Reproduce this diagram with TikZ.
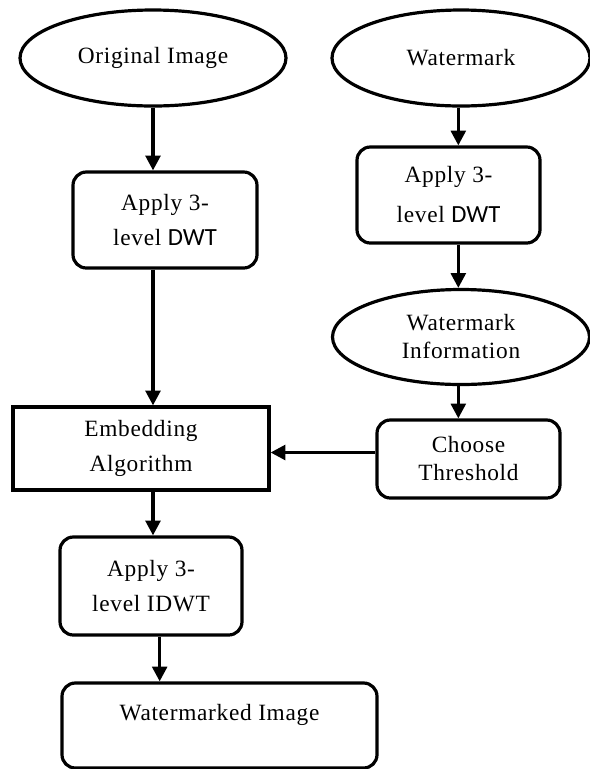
\documentclass[tikz,border=0pt]{standalone}
\usepackage{fontspec}
\setmainfont{Liberation Serif}[LetterSpace=3]
\newfontfamily\dwtfont{Carlito}
\usetikzlibrary{shapes.geometric,arrows.meta}
\tikzset{
  base/.style={draw=black, line width=2.4pt, align=center, inner sep=0pt,
    font=\fontsize{17.5}{26}\selectfont},
  tight/.style={font=\fontsize{17.5}{21}\selectfont},
  loose/.style={font=\fontsize{17.5}{30}\selectfont},
  oval/.style={base, ellipse},
  rbox/.style={base, rectangle, rounded corners=10pt},
  sbox/.style={base, rectangle},
  flow/.style={line width=2.4pt, -{Triangle[length=11pt,width=11pt]}},
}
\begin{document}
\begin{tikzpicture}[x=0.75pt,y=-0.75pt]
  \useasboundingbox (0,0) rectangle (590,769);

  % left column
  \node[oval, minimum width=199.5pt, minimum height=72pt] (orig) at (153,58) {Original Image};
  \node[rbox, minimum width=138pt, minimum height=72pt, text depth=-4pt] (dwta) at (165,220)
    {Apply 3-\\level {\dwtfont\fontsize{18.5}{26}\selectfont DWT}};
  \node[sbox, minimum width=192pt, minimum height=62.25pt] (embed) at (141,448.5)
    {Embedding\\Algorithm};
  \node[rbox, minimum width=136.5pt, minimum height=73.5pt] (idwt) at (151,586)
    {Apply 3-\\level IDWT};
  \node[rbox, minimum width=236.25pt, minimum height=63.75pt] (out) at (219.5,725.5) {};
  \node[font=\fontsize{17.5}{20}\selectfont, inner sep=0pt] (outtext) at (219.5,715) {Watermarked Image};

  % right column
  \node[oval, minimum width=193.5pt, minimum height=72pt] (wm) at (461,58) {Watermark};
  \node[rbox, loose, minimum width=137.25pt, minimum height=72pt] (dwtb) at (448.5,195)
    {Apply 3-\\level {\dwtfont\fontsize{18.5}{30}\selectfont DWT}};
  \node[oval, tight, minimum width=192.75pt, minimum height=71.25pt] (info) at (461,337)
    {Watermark\\Information};
  \node[rbox, tight, minimum width=137.25pt, minimum height=58.5pt] (thr) at (468.5,459)
    {Choose\\Threshold};

  % connectors
  \draw[flow] (orig.south) -- (orig.south |- dwta.north);
  \draw[flow] (dwta.south -| orig.south) -- (orig.south |- embed.north);
  \draw[flow] (embed.south -| orig.south) -- (orig.south |- idwt.north);
  \draw[flow] ([xshift=5pt]idwt.south -| orig.south) -- ([xshift=5pt]orig.south |- out.north);

  \draw[flow] ([xshift=-2pt]wm.south) -- ([xshift=-2pt]wm.south |- dwtb.north);
  \draw[flow] ([xshift=-2pt]dwtb.south -| wm.south) -- ([xshift=-2pt]wm.south |- info.north);
  \draw[flow] ([xshift=-2pt]info.south) -- ([xshift=-2pt]info.south |- thr.north);
  \draw[flow] ([yshift=-3pt]thr.west |- embed.east) -- ([yshift=-3pt]embed.east);
\end{tikzpicture}
\end{document}
